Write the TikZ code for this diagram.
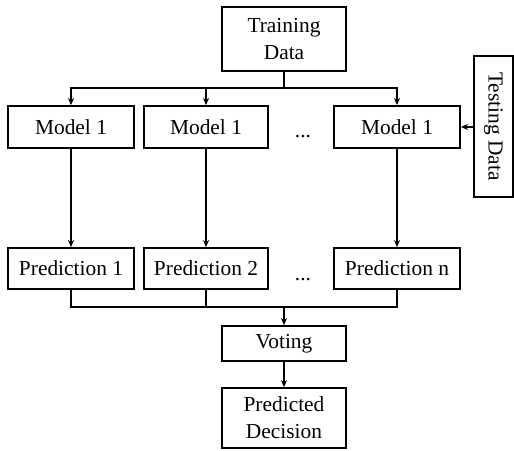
\documentclass[tikz,border=0pt]{standalone}
\usepackage{fontspec}
\setmainfont{Liberation Serif}
\usetikzlibrary{arrows.meta}
\begin{document}
\begin{tikzpicture}[x=1pt,y=-1pt,
  box/.style={draw,line width=1.8pt,inner sep=0pt,align=center,font=\fontsize{21.4}{27}\selectfont},
  arr/.style={line width=1.8pt,-{Stealth[length=7pt,width=6pt]}},
  ln/.style={line width=1.8pt},
  dots/.style={font=\fontsize{21.4}{26}\selectfont,anchor=base,inner sep=0pt}]
\useasboundingbox (0,0) rectangle (514,450);
\node[box,minimum width=124,minimum height=64] (train) at (284,39) {Training\\Data};
\node[box,minimum width=126,minimum height=42] (m1) at (71,127) {Model 1};
\node[box,minimum width=124,minimum height=42] (m2) at (206,127) {Model 1};
\node[box,minimum width=126,minimum height=42] (m3) at (397,127) {Model 1};
\node[dots] (d1) at (303,137) {...};
\node[box,minimum width=39,minimum height=141] (test) at (493.5,126.5) {\rotatebox{-90}{Testing Data}};
\node[box,minimum width=126,minimum height=41] (p1) at (71,268.5) {Prediction 1};
\node[box,minimum width=124,minimum height=41] (p2) at (206,268.5) {Prediction 2};
\node[box,minimum width=126,minimum height=41] (p3) at (397,268.5) {Prediction n};
\node[dots] (d2) at (303,280) {...};
\node[box,minimum width=124,minimum height=35] (vote) at (284,343.5) {Voting};
\node[box,minimum width=124,minimum height=60] (dec) at (284,418) {Predicted\\Decision};
\coordinate (j1) at (284,88);
\coordinate (j2) at (284,307);
\draw[ln] (train.south) -- (j1);
\draw[arr] (j1) -| (m1.north);
\draw[arr] (j1) -| (m2.north);
\draw[arr] (j1) -| (m3.north);
\draw[arr] (test.west |- m3) -- (m3.east);
\draw[arr] (m1) -- (p1);
\draw[arr] (m2) -- (p2);
\draw[arr] (m3) -- (p3);
\draw[ln] (p1.south) |- (j2);
\draw[ln] (p2.south) |- (j2);
\draw[ln] (p3.south) |- (j2);
\draw[arr] (j2) -- (vote);
\draw[arr] (vote) -- (dec);
\end{tikzpicture}
\end{document}
